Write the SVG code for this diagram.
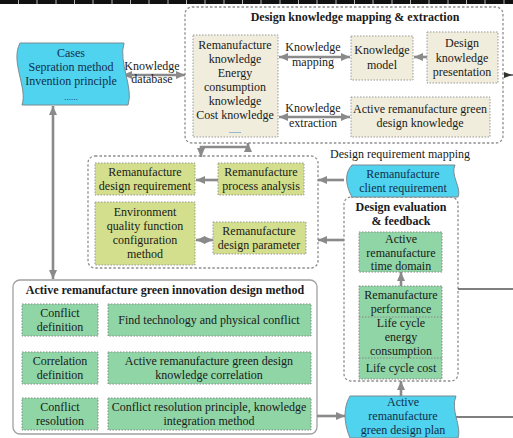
<svg xmlns="http://www.w3.org/2000/svg" width="513" height="438" viewBox="0 0 513 438" font-family="'Liberation Serif', 'Times New Roman', serif">
<style>
text{font-family:"Liberation Serif","Times New Roman",serif;font-size:12px;fill:#1a1a1a;text-anchor:middle}
.b{font-weight:bold}
.cy{fill:#12304a}
.grp{fill:#fff;stroke:#8f8f8f;stroke-width:1.3;stroke-dasharray:2.5,2}
.beige{fill:#f1eddc;stroke:#999;stroke-width:1;stroke-dasharray:1.5,1.5}
.lime{fill:#d3df8c;stroke:#999;stroke-width:1;stroke-dasharray:1.5,1.5}
.mint{fill:#8fd5a6;stroke:#888;stroke-width:1;stroke-dasharray:1.5,1.5}
.cyan{fill:#4fd3ef;stroke:#7a8a90;stroke-width:1}
.c{fill:none;stroke:#8a8a8a;stroke-width:2.6}
.d{fill:none;stroke:#555;stroke-width:1.5}
</style>
<defs>
<marker id="ah" markerUnits="userSpaceOnUse" markerWidth="10" markerHeight="10" viewBox="0 0 10 10" refX="9" refY="5" orient="auto-start-reverse">
<path d="M0,1 L9,5 L0,9 Z" fill="#8a8a8a"/>
</marker>
</defs>
<rect x="0" y="0" width="513" height="438" fill="#fff"/>
<g id="topbar">
<rect x="0" y="0" width="513" height="4" fill="#111"/>
<path d="M18.5,0V4M37,0V4M56,0V4M74.5,0V4M93,0V4M112,0V4M130.5,0V4M149,0V4M168,0V4M186.5,0V4M205,0V4M224,0V4M242.5,0V4M261,0V4M280,0V4M298.5,0V4M317,0V4M336,0V4M354.5,0V4M373,0V4M392,0V4M410.5,0V4M429,0V4M448,0V4M466.5,0V4M485,0V4M504,0V4" stroke="#ddd" stroke-width="0.8"/>
</g>

<g id="group-mapping">
<rect class="grp" x="185" y="7" width="318" height="136" rx="7"/>
<text class="b" x="355" y="21">Design knowledge mapping &amp; extraction</text>
</g>
<g id="group-requirement">
<rect class="grp" x="88" y="156" width="230" height="112" rx="7"/>
</g>
<g id="group-evaluation">
<rect class="grp" x="344" y="197" width="114" height="184" rx="7"/>
<text class="b" x="401" y="211">Design evaluation</text>
<text class="b" x="401" y="225">&amp; feedback</text>
</g>
<g id="group-innovation">
<rect x="13" y="280" width="304" height="154" rx="7" fill="#fff" stroke="#a0a0a0" stroke-width="1.3"/>
<text class="b" x="165" y="294">Active remanufacture green innovation design method</text>
</g>

<g id="connectors">
<line class="c" x1="123" y1="75" x2="185" y2="75" marker-start="url(#ah)" marker-end="url(#ah)"/>
<line class="c" x1="279" y1="57" x2="350" y2="57" marker-start="url(#ah)" marker-end="url(#ah)"/>
<line class="c" x1="427" y1="57" x2="414" y2="57" marker-end="url(#ah)"/>
<line class="d" x1="513" y1="75" x2="505" y2="75"/>
<path d="M512,75 L504,72 L504,78 Z" fill="#333"/>
<line class="c" x1="279" y1="117" x2="350" y2="117" marker-start="url(#ah)" marker-end="url(#ah)"/>
<path class="c" d="M248,143 V147 H201 V157" marker-start="url(#ah)" marker-end="url(#ah)"/>
<line class="c" x1="344" y1="180" x2="318" y2="180" marker-end="url(#ah)"/>
<line class="c" x1="344" y1="240" x2="318" y2="240" marker-end="url(#ah)"/>
<line class="c" x1="218" y1="180" x2="196" y2="180" marker-end="url(#ah)"/>
<line class="c" x1="196" y1="240" x2="213" y2="240" marker-start="url(#ah)" marker-end="url(#ah)"/>
<line class="c" x1="401" y1="286" x2="401" y2="272" marker-end="url(#ah)"/>
<line class="c" x1="401" y1="396" x2="401" y2="381" marker-end="url(#ah)"/>
<line class="c" x1="317" y1="416" x2="345" y2="416" marker-end="url(#ah)"/>
<line class="c" x1="53" y1="106" x2="53" y2="279" marker-start="url(#ah)" marker-end="url(#ah)"/>
<line class="d" x1="458" y1="289" x2="513" y2="289"/>
<line class="d" x1="456" y1="417" x2="513" y2="417"/>
</g>

<g id="label-kdb">
<text x="152" y="70">Knowledge</text>
<text x="152" y="83">database</text>
</g>
<g id="label-mapping">
<text x="313" y="51">Knowledge</text>
<text x="313" y="66">mapping</text>
</g>
<g id="label-extraction">
<text x="313" y="112">Knowledge</text>
<text x="313" y="127">extraction</text>
</g>
<g id="label-drm">
<text x="400" y="158">Design requirement mapping</text>
</g>

<g id="cases">
<path class="cyan" d="M20,43 H124 C118,62 134,88 128,105 H22 C28,88 10,62 20,43 Z"/>
<text class="cy" x="71" y="57">Cases</text>
<text class="cy" x="71" y="71">Sepration method</text>
<text class="cy" x="71" y="85">Invention principle</text>
<text class="cy" x="71" y="100" style="font-size:9px">......</text>
</g>

<g id="kb">
<rect class="beige" x="193" y="35" width="85" height="102"/>
<text x="235" y="49">Remanufacture</text>
<text x="235" y="63">knowledge</text>
<text x="235" y="77">Energy</text>
<text x="235" y="91">consumption</text>
<text x="235" y="105">knowledge</text>
<text x="235" y="119">Cost knowledge</text>
<text x="235" y="133" style="font-size:8px">......</text>
</g>
<g id="kmodel">
<rect class="beige" x="351" y="36" width="62" height="44"/>
<text x="382" y="54">Knowledge</text>
<text x="382" y="69">model</text>
</g>
<g id="kpresent">
<rect class="beige" x="427" y="32" width="71" height="51"/>
<text x="462" y="47">Design</text>
<text x="462" y="62">knowledge</text>
<text x="462" y="76">presentation</text>
</g>
<g id="argk">
<rect class="beige" x="351" y="97" width="139" height="40"/>
<text x="420" y="113">Active remanufacture green</text>
<text x="420" y="127">design knowledge</text>
</g>

<g id="req">
<rect class="lime" x="95" y="163" width="100" height="32"/>
<text x="145" y="176">Remanufacture</text>
<text x="145" y="190">design requirement</text>
</g>
<g id="proc">
<rect class="lime" x="218" y="163" width="86" height="32"/>
<text x="261" y="176">Remanufacture</text>
<text x="261" y="190">process analysis</text>
</g>
<g id="eqfd">
<rect class="lime" x="95" y="202" width="100" height="63"/>
<text x="145" y="216">Environment</text>
<text x="145" y="230">quality function</text>
<text x="145" y="244">configuration</text>
<text x="145" y="258">method</text>
</g>
<g id="param">
<rect class="lime" x="213" y="222" width="93" height="32"/>
<text x="259" y="235">Remanufacture</text>
<text x="259" y="249">design parameter</text>
</g>

<g id="client">
<path class="cyan" d="M352,165 H455 C450,175 462,188 458,197 H352 C347,188 343,175 352,165 Z"/>
<text class="cy" x="403" y="178">Remanufacture</text>
<text class="cy" x="403" y="192">client requirement</text>
</g>

<g id="timedomain">
<rect class="mint" x="359" y="232" width="83" height="40"/>
<text x="401" y="243">Active</text>
<text x="401" y="257">remanufacture</text>
<text x="401" y="270">time domain</text>
</g>
<g id="metrics">
<rect class="mint" x="359" y="286" width="83" height="93"/>
<line x1="359" y1="317" x2="442" y2="317" stroke="#888" stroke-width="1" stroke-dasharray="1.5,1.5"/>
<line x1="359" y1="358" x2="442" y2="358" stroke="#888" stroke-width="1" stroke-dasharray="1.5,1.5"/>
<text x="401" y="299">Remanufacture</text>
<text x="401" y="313">performance</text>
<text x="401" y="327">Life cycle</text>
<text x="401" y="341">energy</text>
<text x="401" y="355">consumption</text>
<text x="401" y="372">Life cycle cost</text>
</g>

<g id="plan">
<path class="cyan" d="M350,396 H456 C450,410 462,426 458,438 H350 C345,426 342,410 350,396 Z"/>
<text class="cy" x="403" y="406">Active</text>
<text class="cy" x="403" y="420">remanufacture</text>
<text class="cy" x="403" y="434">green design plan</text>
</g>

<g id="cdef">
<rect class="mint" x="22" y="304" width="76" height="32"/>
<text x="60" y="317">Conflict</text>
<text x="60" y="331">definition</text>
</g>
<g id="findconf">
<rect class="mint" x="108" y="304" width="203" height="32"/>
<text x="209" y="324">Find technology and physical conflict</text>
</g>
<g id="corrdef">
<rect class="mint" x="22" y="352" width="76" height="32"/>
<text x="60" y="365">Correlation</text>
<text x="60" y="379">definition</text>
</g>
<g id="corr">
<rect class="mint" x="108" y="352" width="203" height="32"/>
<text x="209" y="365">Active remanufacture green design</text>
<text x="209" y="379">knowledge correlation</text>
</g>
<g id="cres">
<rect class="mint" x="22" y="398" width="76" height="32"/>
<text x="60" y="411">Conflict</text>
<text x="60" y="425">resolution</text>
</g>
<g id="cresm">
<rect class="mint" x="108" y="398" width="203" height="32"/>
<text x="209" y="411">Conflict resolution principle, knowledge</text>
<text x="209" y="425">integration method</text>
</g>
</svg>
